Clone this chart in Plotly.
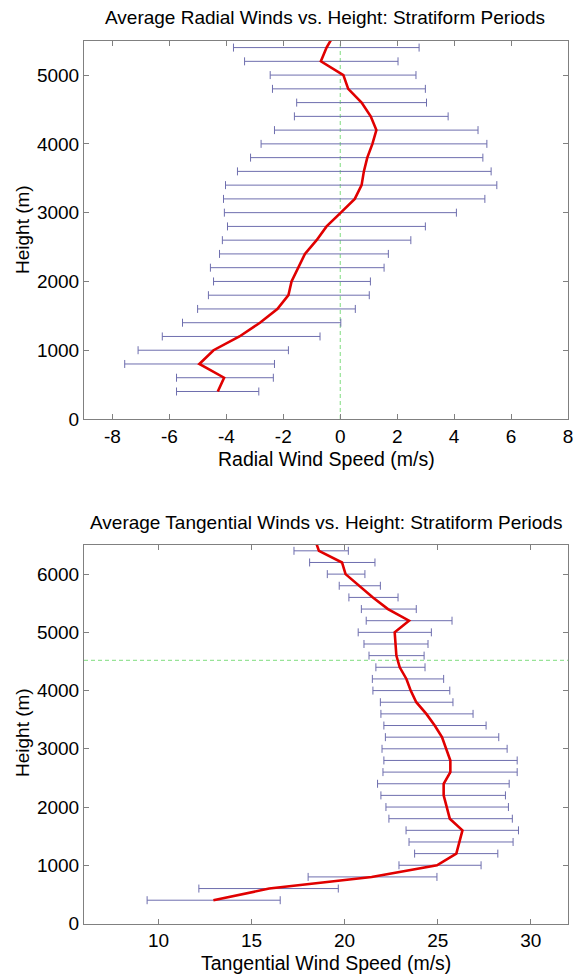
import plotly.graph_objects as go

# ---- Radial winds (top panel) ----
rad_height = [400, 600, 800, 1000, 1200, 1400, 1600, 1800, 2000, 2200, 2400, 2600, 2800,
              3000, 3200, 3400, 3600, 3800, 4000, 4200, 4400, 4600, 4800, 5000, 5200, 5400]
rad_mean = [-4.30, -4.08, -4.95, -4.45, -3.54, -2.82, -2.21, -1.82, -1.71, -1.47, -1.24, -0.83, -0.48,
            0.02, 0.51, 0.75, 0.83, 0.95, 1.13, 1.27, 1.07, 0.75, 0.28, 0.11, -0.68, -0.48]
rad_low = [-5.75, -5.75, -7.57, -7.10, -6.25, -5.54, -5.01, -4.63, -4.45, -4.56, -4.24, -4.14, -3.96,
           -4.07, -4.10, -4.03, -3.61, -3.15, -2.78, -2.31, -1.61, -1.53, -2.38, -2.46, -3.36, -3.75]
rad_high = [-2.86, -2.35, -2.31, -1.82, -0.71, 0.02, 0.53, 1.02, 1.06, 1.54, 1.69, 2.48, 2.99,
            4.08, 5.08, 5.50, 5.30, 5.01, 5.15, 4.84, 3.79, 3.03, 2.99, 2.66, 2.03, 2.77]
rad_line_height = rad_height + [5600]
rad_line_mean = rad_mean + [-0.20]
rad_xticks = [-8, -6, -4, -2, 0, 2, 4, 6, 8]
rad_xticktext = ["-8", "-6", "-4", "-2", "0", "2", "4", "6", "8"]
rad_yticks = [0, 1000, 2000, 3000, 4000, 5000]

# ---- Tangential winds (bottom panel) ----
tan_height = [400, 600, 800, 1000, 1200, 1400, 1600, 1800, 2000, 2200, 2400, 2600, 2800, 3000,
              3200, 3400, 3600, 3800, 4000, 4200, 4400, 4600, 4800, 5000, 5200, 5400, 5600,
              5800, 6000, 6200, 6400]
tan_mean = [12.95, 15.95, 21.45, 24.96, 26.00, 26.18, 26.33, 25.65, 25.47, 25.32, 25.32, 25.68,
            25.68, 25.47, 25.23, 24.84, 24.39, 23.85, 23.55, 23.32, 22.96, 22.78, 22.74, 22.69,
            23.46, 22.33, 21.52, 20.77, 20.05, 19.86, 18.62]
tan_low = [9.39, 12.17, 18.04, 22.92, 23.76, 23.46, 23.30, 22.38, 22.22, 21.95, 21.77, 22.06,
           22.11, 22.01, 22.19, 22.11, 21.95, 21.92, 21.52, 21.49, 21.68, 21.31, 21.04, 20.73,
           21.16, 20.90, 20.23, 19.71, 19.07, 18.12, 17.28]
tan_high = [16.54, 19.66, 24.96, 27.33, 28.23, 29.05, 29.34, 29.01, 28.80, 28.64, 28.84, 29.27,
            29.27, 28.73, 28.28, 27.60, 26.90, 25.82, 25.65, 25.32, 24.32, 24.27, 24.48, 24.66,
            25.77, 23.85, 22.87, 21.92, 21.09, 21.63, 20.20]
tan_line_height = tan_height + [6600]
tan_line_mean = tan_mean + [18.40]
tan_xticks = [10, 15, 20, 25, 30]
tan_yticks = [0, 1000, 2000, 3000, 4000, 5000, 6000]

ref_radial_zero = 0
ref_height_line = 4520

BAR = "#6e6eae"
RED = "#e00000"
GREEN = "#7fdc7f"
AXC = "#808080"
FONT = "Liberation Sans, Arial, sans-serif"

fig = go.Figure()

def add_panel(h, mean, low, high, lh, lm, xa, ya):
    fig.add_trace(go.Scatter(
        x=mean, y=h, mode="markers", marker=dict(size=0.1, opacity=0),
        error_x=dict(type="data", symmetric=False,
                     array=[hi - m for hi, m in zip(high, mean)],
                     arrayminus=[m - lo for lo, m in zip(low, mean)],
                     color=BAR, thickness=1, width=4),
        xaxis=xa, yaxis=ya, showlegend=False, hoverinfo="skip"))
    fig.add_trace(go.Scatter(
        x=lm, y=lh, mode="lines", line=dict(color=RED, width=2.6),
        xaxis=xa, yaxis=ya, showlegend=False))

add_panel(rad_height, rad_mean, rad_low, rad_high, rad_line_height, rad_line_mean, "x", "y")
add_panel(tan_height, tan_mean, tan_low, tan_high, tan_line_height, tan_line_mean, "x2", "y2")

fig.add_shape(type="line", xref="x", yref="y domain", x0=ref_radial_zero, x1=ref_radial_zero,
              y0=0, y1=1, line=dict(color=GREEN, width=1, dash="4px,3px"), layer="below")
fig.add_shape(type="line", xref="x2 domain", yref="y2", x0=0, x1=1,
              y0=ref_height_line, y1=ref_height_line,
              line=dict(color=GREEN, width=1, dash="4px,3px"), layer="below")

W, H = 576, 975
xd = [84 / W, 568 / W]
ax_common = dict(showgrid=False, zeroline=False, showline=True, linecolor=AXC, linewidth=1,
                 mirror="ticks", ticks="inside", ticklen=5, tickcolor=AXC,
                 tickfont=dict(family=FONT, size=19, color="black"))

fig.update_layout(
    width=W, height=H, autosize=False, margin=dict(l=0, r=0, t=0, b=0, pad=0, autoexpand=False),
    paper_bgcolor="white", plot_bgcolor="white",
    xaxis=dict(domain=xd, range=[-9, 8], tickvals=rad_xticks, ticktext=rad_xticktext,
               anchor="y", **ax_common),
    yaxis=dict(domain=[1 - 419 / H, 1 - 40.7 / H], range=[0, 5500],
               tickvals=rad_yticks, anchor="x", **ax_common),
    xaxis2=dict(domain=xd, range=[6, 32], tickvals=tan_xticks,
                anchor="y2", **ax_common),
    yaxis2=dict(domain=[1 - 923.5 / H, 1 - 545 / H], range=[0, 6500],
                tickvals=tan_yticks, anchor="x2", **ax_common),
)

def txt(text, x, y, size=19, angle=0):
    fig.add_annotation(text=text, x=x / W, y=1 - y / H, xref="paper", yref="paper",
                       showarrow=False, textangle=angle, xanchor="center", yanchor="middle",
                       font=dict(family=FONT, size=size, color="black"))

txt("Average Radial Winds vs. Height: Stratiform Periods", 325, 17, 19)
txt("Radial Wind Speed (m/s)", 326, 459, 19.5)
txt("Height (m)", 22, 230, 19, -90)
txt("Average Tangential Winds vs. Height: Stratiform Periods", 326, 522, 19)
txt("Tangential Wind Speed (m/s)", 326, 963, 19.5)
txt("Height (m)", 22, 733, 19, -90)

fig.write_html("out.html", config={"displayModeBar": False},
               post_script="document.body.style.margin='0';")
